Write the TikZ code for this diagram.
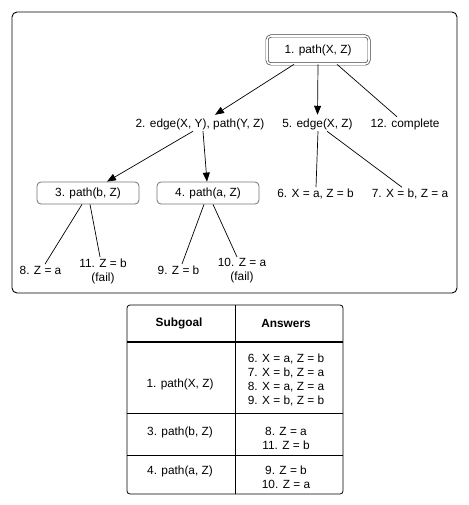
\documentclass[tikz,border=0pt]{standalone}
\usepackage{fontspec}
\setmainfont{Liberation Sans}
\usetikzlibrary{arrows.meta}
\begin{document}
\begin{tikzpicture}[x=1bp,y=-1bp,
  every node/.style={font=\fontsize{11.9}{14}\selectfont, inner sep=1.5bp},
  lbl/.style={align=center},
  goalbox/.style={draw=black!55, rounded corners=4bp, line width=0.8bp, minimum width=102bp, minimum height=22bp, inner sep=0pt},
  rootbox/.style={draw=black!75, double, double distance=1.6bp, line width=0.7bp, rounded corners=4bp, minimum width=102bp, minimum height=28bp, inner sep=0pt},
  conn/.style={line width=0.7bp},
  arr/.style={conn, -{Triangle[length=9bp,width=7bp]}},
  tbl/.style={line width=0.8bp},
  cell/.style={align=center}
]
\useasboundingbox (0,0) rectangle (469,505);
% outer frame
\draw[line width=0.9bp, rounded corners=5bp] (12,12) rectangle (457,293);

% tree nodes
\node[rootbox] (n1) at (318,50) {1. path(X, Z)};
\node[lbl] (n2) at (200,124) {2. edge(X, Y), path(Y, Z)};
\node[lbl] (n5) at (317.5,124) {5. edge(X, Z)};
\node[lbl] (n12) at (405,124) {12. complete};
\node[goalbox] (n3) at (88,193) {3. path(b, Z)};
\node[goalbox] (n4) at (208,193) {4. path(a, Z)};
\node[lbl] (n6) at (315.5,194) {6. X = a, Z = b};
\node[lbl] (n7) at (410,194) {7. X = b, Z = a};
\node[lbl] (n8) at (40.5,270) {8. Z = a};
\node[lbl] (n11) at (103,271) {11. Z = b\\(fail)};
\node[lbl] (n9) at (178.5,270) {9. Z = b};
\node[lbl] (n10) at (242,271) {10. Z = a\\(fail)};

% connectors
\draw[arr] ([xshift=-24bp]n1.south) -- ([xshift=15bp,yshift=2bp]n2.north);
\draw[arr] (n1.south) -- ([yshift=2bp]n5.north);
\draw[conn] ([xshift=19bp]n1.south) -- ([xshift=-8bp]n12.north);
\draw[arr] ([xshift=-7bp]n2.south) -- ([xshift=19bp]n3.north);
\draw[arr] ([xshift=3bp]n2.south) -- ([xshift=-1bp]n4.north);
\draw[conn] ([xshift=0.5bp]n5.south) -- ([xshift=0.5bp]n6.north);
\draw[conn] ([xshift=9.5bp]n5.south) -- ([xshift=-8bp]n7.north);
\draw[conn] ([xshift=-6bp]n3.south) -- ([xshift=4.5bp]n8.north);
\draw[conn] ([xshift=2bp]n3.south) -- ([xshift=-3bp]n11.north);
\draw[conn] ([xshift=-4bp]n4.south) -- ([xshift=3.5bp]n9.north);
\draw[conn] ([xshift=5bp]n4.south) -- ([xshift=-5bp]n10.north);

% table
\draw[tbl, rounded corners=3bp] (127,305) rectangle (343,494);
\draw[tbl] (235,305) -- (235,494);
\draw[line width=2bp] (127,342) -- (343,342);
\draw[tbl] (127,413) -- (343,413);
\draw[tbl] (127,455) -- (343,455);

\node[cell, font=\fontsize{11.9}{14}\selectfont\bfseries] (h1) at (179,323) {Subgoal};
\node[cell, font=\fontsize{11.9}{14}\selectfont\bfseries] (h2) at (286,323) {Answers};
\node[cell] (r1a) at (180,384) {1. path(X, Z)};
\node[cell] (r1b) at (286,380) {6. X = a, Z = b\\7. X = b, Z = a\\8. X = a, Z = a\\9. X = b, Z = b};
\node[cell] (r2a) at (180,432) {3. path(b, Z)};
\node[cell] (r2b) at (286,438) {8. Z = a\\11. Z = b};
\node[cell] (r3a) at (180,471) {4. path(a, Z)};
\node[cell] (r3b) at (286,477) {9. Z = b\\10. Z = a};
\end{tikzpicture}
\end{document}
